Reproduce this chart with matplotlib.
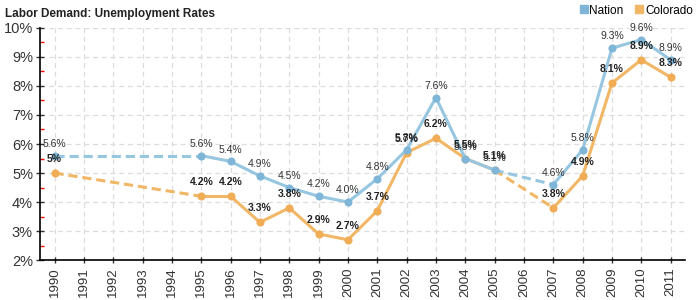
import matplotlib
matplotlib.use('Agg')
import matplotlib.pyplot as plt
import numpy as np

plt.rcParams['font.family'] = ['Liberation Sans', 'DejaVu Sans']

years = [1990, 1995, 1996, 1997, 1998, 1999, 2000, 2001, 2002, 2003, 2004,
         2005, 2007, 2008, 2009, 2010, 2011]
nation = [5.6, 5.6, 5.4, 4.9, 4.5, 4.2, 4.0, 4.8, 5.8, 7.6, 5.5,
          5.1, 4.6, 5.8, 9.3, 9.6, 8.9]
colorado = [5.0, 4.2, 4.2, 3.3, 3.8, 2.9, 2.7, 3.7, 5.7, 6.2, 5.5,
            5.1, 3.8, 4.9, 8.1, 8.9, 8.3]
nation_labels = ['5.6%', '5.6%', '5.4%', '4.9%', '4.5%', '4.2%', '4.0%', '4.8%', '5.8%',
                 '7.6%', '5.5%', '5.1%', '4.6%', '5.8%', '9.3%', '9.6%', '8.9%']
colorado_labels = ['5%', '4.2%', '4.2%', '3.3%', '3.8%', '2.9%', '2.7%', '3.7%', '5.7%',
                   '6.2%', '5.5%', '5.1%', '3.8%', '4.9%', '8.1%', '8.9%', '8.3%']

blue = '#97c6e1'
blue_dark = '#7fb6d8'
orange = '#f2b766'
orange_dark = '#f0ad55'


def draw_series(ax, x, y, color, mcolor, zorder):
    # solid between consecutive years, dashed over gaps
    for i in range(len(x) - 1):
        ls = '-' if x[i + 1] - x[i] == 1 else (0, (3, 1.6))
        ax.plot(x[i:i + 2], y[i:i + 2], color=color, lw=2.2, ls=ls,
                solid_capstyle='round', zorder=zorder)
    ax.scatter(x, y, s=34, color=mcolor, zorder=zorder + 0.5, linewidths=0)


fig = plt.figure(figsize=(7, 3), dpi=100)
ax = fig.add_axes([0.057, 0.133, 0.922, 0.774])

draw_series(ax, years, colorado, orange, orange_dark, 3)
draw_series(ax, years, nation, blue, blue_dark, 4)

for x, y, t in zip(years, nation, nation_labels):
    ax.annotate(t, (x, y), xytext=(0, 8.5), textcoords='offset points',
                ha='center', va='center', fontsize=7.5, color='#333333', zorder=6)
for x, y, t in zip(years, colorado, colorado_labels):
    ax.annotate(t, (x, y), xytext=(0, 10), textcoords='offset points',
                ha='center', va='center', fontsize=7.5, color='#222222',
                fontweight='bold', zorder=6)

ax.set_xlim(1989.5, 2011.5)
ax.set_ylim(2, 10)
all_years = np.arange(1990, 2012)
ax.set_xticks(all_years)
ax.set_xticklabels([str(y) for y in all_years], rotation=90, fontsize=9.5, color='#333333')
ax.set_yticks(np.arange(2, 11))
ax.set_yticklabels(['%d%%' % v for v in range(2, 11)], fontsize=10.5, color='#333333')
ax.set_yticks(np.arange(2.5, 10, 1.0), minor=True)
ax.tick_params(axis='y', which='major', direction='inout', length=6, width=1, color='#333333', pad=2)
ax.tick_params(axis='y', which='minor', direction='in', length=3, width=1, color='red')
ax.tick_params(axis='x', direction='inout', length=4, width=1, color='#333333', pad=3)

ax.grid(True, which='major', color='#dddddd', ls=(0, (4, 3)), lw=0.9)
ax.set_axisbelow(True)
for s in ['top', 'right']:
    ax.spines[s].set_visible(False)
ax.spines['left'].set_linewidth(1.2)
ax.spines['bottom'].set_linewidth(1.2)

fig.text(0.007, 0.975, 'Labor Demand: Unemployment Rates', fontsize=8.5,
         fontweight='bold', color='#222222', va='top', ha='left')

# legend
h1 = plt.Line2D([], [], marker='s', ls='', color=blue_dark, markersize=6)
h2 = plt.Line2D([], [], marker='s', ls='', color=orange, markersize=6)
fig.legend([h1, h2], ['Nation', 'Colorado'], loc='upper right',
           bbox_to_anchor=(1.005, 1.02), ncol=2, frameon=False, fontsize=8.5,
           handletextpad=0.0, columnspacing=0.8, handlelength=1.0)

fig.savefig('out.png', dpi=100)
